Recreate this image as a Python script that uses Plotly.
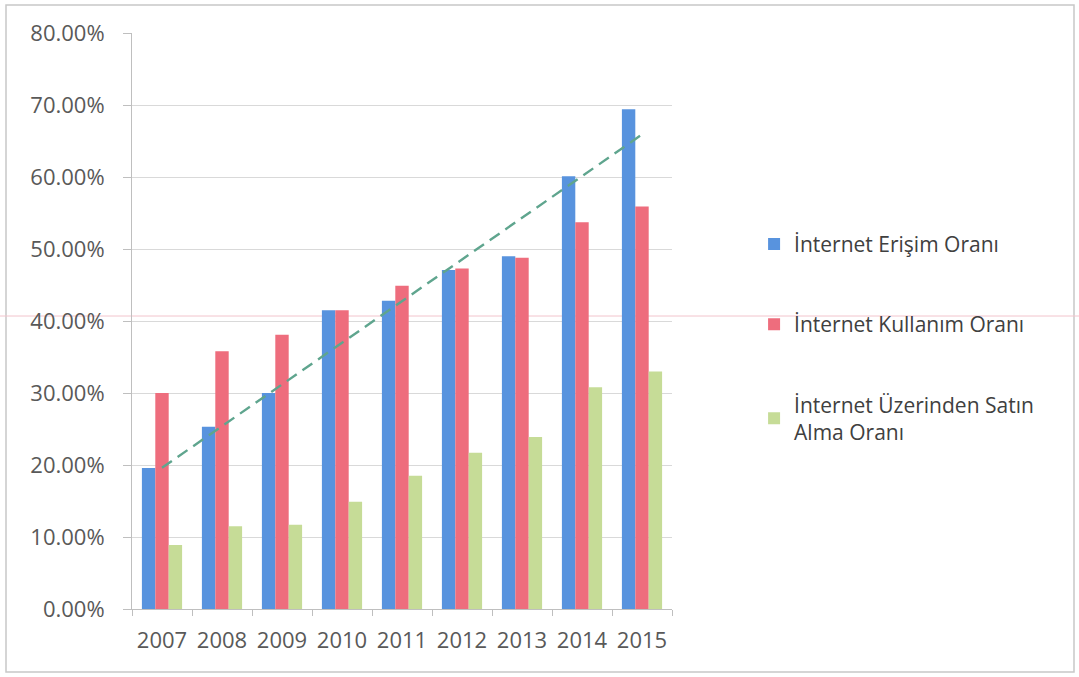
import numpy as np
import plotly.graph_objects as go

years = ["2007", "2008", "2009", "2010", "2011", "2012", "2013", "2014", "2015"]
erisim = [0.196, 0.253, 0.300, 0.415, 0.428, 0.471, 0.490, 0.601, 0.694]
kullanim = [0.300, 0.358, 0.381, 0.415, 0.449, 0.473, 0.488, 0.537, 0.559]
satin_alma = [0.089, 0.115, 0.117, 0.149, 0.185, 0.217, 0.239, 0.308, 0.330]
y_ticks = [0, 0.1, 0.2, 0.3, 0.4, 0.5, 0.6, 0.7, 0.8]

names = ["İnternet Erişim Oranı", "İnternet Kullanım Oranı",
         "İnternet Üzerinden Satın<br>Alma Oranı"]
colors = ["#5893DE", "#EE6D7D", "#C6DC97"]

# linear trendline of access rate (as in the spreadsheet chart)
xi = np.arange(1, len(years) + 1)
slope, intercept = np.polyfit(xi, erisim, 1)
trend = slope * xi + intercept

fig = go.Figure()
for i, (vals, name, col) in enumerate(zip([erisim, kullanim, satin_alma], names, colors)):
    fig.add_trace(go.Bar(x=years, y=vals, name=name, marker_color=col,
                         marker_line_width=0, legendgroup=f"g{i}"))
fig.add_trace(go.Scatter(x=years, y=trend, mode="lines", showlegend=False,
                         line=dict(color="#5FA58E", width=2.4, dash="12px,7px")))

font_family = "Open Sans, Noto Sans, sans-serif"
fig.update_layout(
    width=1079, height=677,
    margin=dict(l=132, r=407, t=33, b=68, autoexpand=False),
    paper_bgcolor="white", plot_bgcolor="white",
    barmode="group", bargap=0.33, bargroupgap=0,
    font=dict(family=font_family, size=21, color="#595959"),
    legend=dict(x=1.152, y=0.47, xanchor="left", yanchor="middle",
                font=dict(size=21, color="#404040"), tracegroupgap=50,
                traceorder="grouped", bgcolor="rgba(0,0,0,0)"),
    showlegend=True,
)
fig.update_xaxes(
    type="category", showgrid=False, showline=True, linecolor="#BFBFBF",
    linewidth=1, ticks="outside", tickson="boundaries", ticklen=6,
    tickcolor="#BFBFBF", tickfont=dict(size=22, color="#595959"),
    ticklabelstandoff=12, tickangle=0, automargin=False,
)
fig.update_yaxes(
    range=[0, 0.8], tickvals=y_ticks, tickformat=".2%", showgrid=True,
    gridcolor="#D9D9D9", gridwidth=1, showline=True, linecolor="#BFBFBF",
    ticks="outside", ticklen=8, tickcolor="#BFBFBF",
    tickfont=dict(size=22, color="#595959"), ticklabelstandoff=14,
    zeroline=False, automargin=False,
)

# outer frame of the chart and faint scan line
fig.add_shape(type="rect", xref="paper", yref="paper",
              x0=(6 - 132) / 540, x1=(1074 - 132) / 540,
              y0=(609 - 672) / 576, y1=(609 - 5) / 576,
              line=dict(color="#C8C8C8", width=1.5), layer="below")
fig.add_shape(type="line", xref="paper", yref="paper",
              x0=(0 - 132) / 540, x1=(1079 - 132) / 540,
              y0=(609 - 316) / 576, y1=(609 - 316) / 576,
              line=dict(color="#F2C4CC", width=1), layer="below")

fig.write_html("out.html")
